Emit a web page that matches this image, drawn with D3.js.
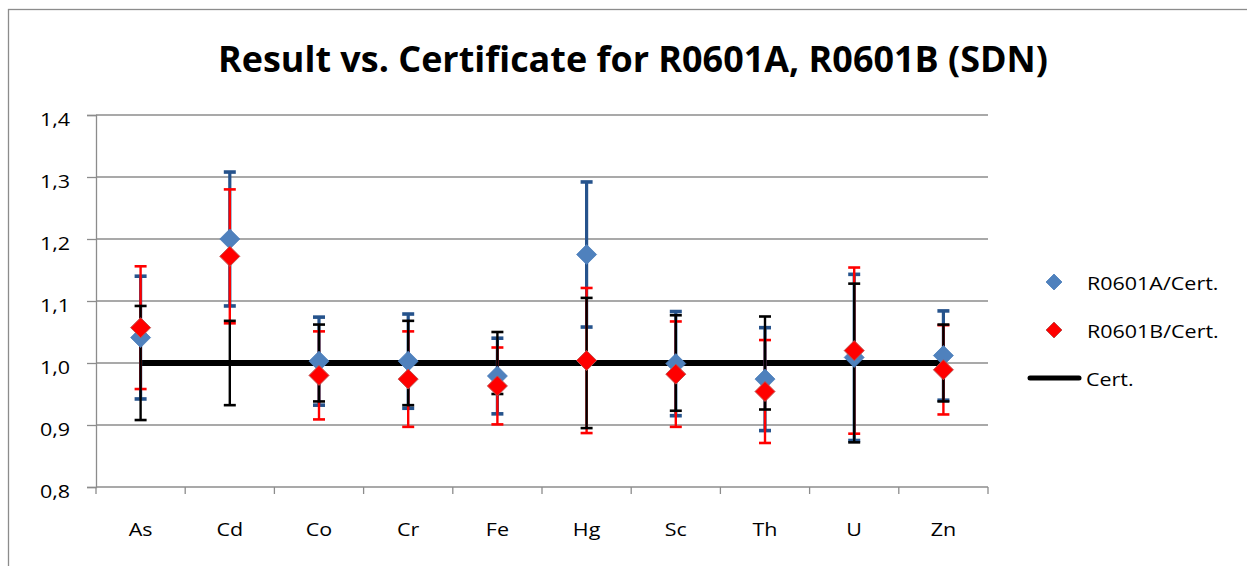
<!DOCTYPE html>
<html>
<head>
<meta charset="utf-8">
<script src="https://cdn.jsdelivr.net/npm/d3@7"></script>
<style>
  html, body { margin: 0; padding: 0; background: #ffffff; }
  svg { display: block; font-family: "Open Sans", sans-serif; }
</style>
</head>
<body>
<svg id="chart" width="1247" height="566"></svg>
<script>
// Element ratios: measured result / certified value, with uncertainties
const categories = ["As", "Cd", "Co", "Cr", "Fe", "Hg", "Sc", "Th", "U", "Zn"];
const ratioA = [1.041, 1.200, 1.003, 1.003, 0.979, 1.175, 0.999, 0.974, 1.009, 1.012];
const errA   = [0.099, 0.108, 0.071, 0.076, 0.061, 0.117, 0.084, 0.083, 0.134, 0.072];
const ratioB = [1.057, 1.172, 0.980, 0.974, 0.963, 1.004, 0.982, 0.954, 1.020, 0.989];
const errB   = [0.099, 0.108, 0.071, 0.077, 0.062, 0.117, 0.085, 0.083, 0.134, 0.072];
const cert    = [1.0, 1.0, 1.0, 1.0, 1.0, 1.0, 1.0, 1.0, 1.0, 1.0];
const errCert = [0.092, 0.068, 0.062, 0.068, 0.050, 0.105, 0.077, 0.075, 0.128, 0.062];
const yTicks = [0.8, 0.9, 1.0, 1.1, 1.2, 1.3, 1.4];
const seriesNames = ["R0601A/Cert.", "R0601B/Cert.", "Cert."];
const titleText = "Result vs. Certificate for R0601A, R0601B (SDN)";

const svg = d3.select("#chart");
const plot = { left: 96, right: 988, top: 115, bottom: 487 };
const gridColor = "#8c8c8c";
const bodySize = 19;
const stretch = 1.13;   // text is set slightly wide

const fmt = d3.formatLocale({ decimal: ",", thousands: ".", grouping: [3], currency: ["", ""] }).format(".1f");

const x = d3.scaleBand().domain(categories).range([plot.left, plot.right]).padding(0);
const cx = c => x(c) + x.bandwidth() / 2;
const y = d3.scaleLinear().domain([0.8, 1.4]).range([plot.bottom, plot.top]);

// Outer chart frame
svg.append("rect")
  .attr("x", 8.5).attr("y", 9.5).attr("width", 1300).attr("height", 700)
  .attr("fill", "none").attr("stroke", gridColor).attr("stroke-width", 1.3);

// Title
svg.append("text")
  .attr("x", 633).attr("y", 72)
  .attr("text-anchor", "middle")
  .attr("font-size", 36).attr("font-weight", 700)
  .attr("textLength", 830).attr("lengthAdjust", "spacingAndGlyphs")
  .attr("fill", "#000")
  .text(titleText);

// Horizontal gridlines
svg.append("g")
  .selectAll("line")
  .data(yTicks.filter(t => t > 0.8))
  .join("line")
  .attr("x1", plot.left).attr("x2", plot.right)
  .attr("y1", d => y(d)).attr("y2", d => y(d))
  .attr("stroke", gridColor).attr("stroke-width", 1.3);

// Y axis
const yAxis = svg.append("g")
  .attr("transform", `translate(${plot.left},0)`)
  .call(d3.axisLeft(y).tickValues(yTicks).tickFormat(fmt).tickSize(9).tickPadding(17));
yAxis.select(".domain").attr("stroke", gridColor).attr("stroke-width", 1.3);
yAxis.selectAll(".tick line").attr("stroke", gridColor).attr("stroke-width", 1.3);
yAxis.selectAll("text").attr("font-size", bodySize).attr("fill", "#000")
  .attr("font-family", "'Open Sans', sans-serif").attr("dy", "0.55em");

// X axis: labels at band centres, ticks at band boundaries
const xAxis = svg.append("g")
  .attr("transform", `translate(0,${plot.bottom})`)
  .call(d3.axisBottom(x).tickSize(0).tickPadding(36));
xAxis.select(".domain").remove();
xAxis.selectAll("text").attr("font-size", bodySize).attr("fill", "#000")
  .attr("font-family", "'Open Sans', sans-serif");
svg.append("line")
  .attr("x1", plot.left).attr("x2", plot.right)
  .attr("y1", plot.bottom).attr("y2", plot.bottom)
  .attr("stroke", gridColor).attr("stroke-width", 1.3);
const bounds = categories.map(c => x(c)).concat([x.range()[1]]);
svg.append("g").selectAll("line")
  .data(bounds)
  .join("line")
  .attr("x1", d => d).attr("x2", d => d)
  .attr("y1", plot.bottom).attr("y2", plot.bottom + 7)
  .attr("stroke", gridColor).attr("stroke-width", 1.3);

// Certificate reference line
svg.append("path")
  .datum(categories.map((c, i) => [cx(c), y(cert[i])]))
  .attr("d", d3.line())
  .attr("fill", "none").attr("stroke", "#000").attr("stroke-width", 6);

// Error bars: A, then B, then certificate on top
function errorBars(values, errs, color, width, capWidth, capStroke) {
  const g = svg.append("g");
  const rows = categories.map((c, i) => ({ c, v: values[i], e: errs[i] }));
  g.selectAll("line.stem").data(rows).join("line")
    .attr("class", "stem")
    .attr("x1", d => cx(d.c)).attr("x2", d => cx(d.c))
    .attr("y1", d => y(d.v + d.e)).attr("y2", d => y(d.v - d.e))
    .attr("stroke", color).attr("stroke-width", width);
  ["top", "bot"].forEach(k => {
    g.selectAll("line.cap-" + k).data(rows).join("line")
      .attr("class", "cap-" + k)
      .attr("x1", d => cx(d.c) - capWidth / 2).attr("x2", d => cx(d.c) + capWidth / 2)
      .attr("y1", d => y(k === "top" ? d.v + d.e : d.v - d.e))
      .attr("y2", d => y(k === "top" ? d.v + d.e : d.v - d.e))
      .attr("stroke", color).attr("stroke-width", capStroke);
  });
}
errorBars(ratioA, errA, "#26538c", 3.2, 12, 3.6);
errorBars(ratioB, errB, "#ff0000", 2.4, 12, 2.6);
errorBars(cert, errCert, "#000000", 2.4, 12, 2.6);

// Diamond markers
const diamond = r => `M0,${-r}L${r},0L0,${r}L${-r},0Z`;
svg.append("g").selectAll("path")
  .data(categories.map((c, i) => ({ c, v: ratioA[i] })))
  .join("path")
  .attr("transform", d => `translate(${cx(d.c)},${y(d.v)})`)
  .attr("d", diamond(10))
  .attr("fill", "#4f81bd").attr("stroke", "#4a7ebb").attr("stroke-width", 0.8);
svg.append("g").selectAll("path")
  .data(categories.map((c, i) => ({ c, v: ratioB[i] })))
  .join("path")
  .attr("transform", d => `translate(${cx(d.c)},${y(d.v)})`)
  .attr("d", diamond(10))
  .attr("fill", "#ff0000").attr("stroke", "#c0504d").attr("stroke-width", 1);

// Legend
const legend = svg.append("g");
legend.append("path").attr("transform", "translate(1054,282)").attr("d", diamond(8))
  .attr("fill", "#4f81bd").attr("stroke", "#4a7ebb").attr("stroke-width", 0.8);
legend.append("path").attr("transform", "translate(1054,330)").attr("d", diamond(8))
  .attr("fill", "#ff0000").attr("stroke", "#c0504d").attr("stroke-width", 1);
legend.append("line")
  .attr("x1", 1030).attr("x2", 1079).attr("y1", 378).attr("y2", 378)
  .attr("stroke", "#000").attr("stroke-width", 5).attr("stroke-linecap", "round");
const legendRows = [
  { label: seriesNames[0], x: 1087, y: 290 },
  { label: seriesNames[1], x: 1087, y: 338 },
  { label: seriesNames[2], x: 1086, y: 386 }
];
legend.selectAll("text").data(legendRows).join("text")
  .attr("x", d => d.x).attr("y", d => d.y)
  .attr("font-size", bodySize).attr("fill", "#000")
  .text(d => d.label);

// Widen the body text to the chart's letter proportions
svg.selectAll("g text").filter(function () {
  return !this.hasAttribute("textLength");
}).each(function () {
  const len = this.getComputedTextLength();
  d3.select(this).attr("textLength", len * stretch).attr("lengthAdjust", "spacingAndGlyphs");
});
</script>
</body>
</html>
